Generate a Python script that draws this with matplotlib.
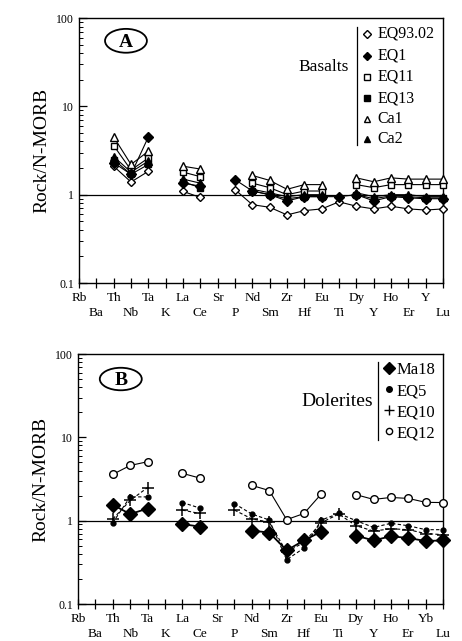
import numpy as np
import matplotlib
matplotlib.use("Agg")
import matplotlib.pyplot as plt
from matplotlib.patches import Ellipse

plt.rcParams['font.family'] = ['Liberation Serif', 'DejaVu Serif']

elements = ['Rb', 'Ba', 'Th', 'Nb', 'Ta', 'K', 'La', 'Ce', 'Sr', 'P', 'Nd', 'Sm',
            'Zr', 'Hf', 'Eu', 'Ti', 'Dy', 'Y', 'Ho', 'Er', 'Y', 'Lu']
elements_b = ['Rb', 'Ba', 'Th', 'Nb', 'Ta', 'K', 'La', 'Ce', 'Sr', 'P', 'Nd', 'Sm',
              'Zr', 'Hf', 'Eu', 'Ti', 'Dy', 'Y', 'Ho', 'Er', 'Yb', 'Lu']
n = np.nan

# panel A - basalts (Rb ... Lu)
eq9302 = [n, n, 2.1, 1.39, 1.84, n, 1.09, 0.93, n, 1.14, 0.77, 0.72, 0.59, 0.66, 0.69, 0.83, 0.74, 0.69, 0.74, 0.69, 0.67, 0.69]
eq1    = [n, n, 2.3, 1.7, 4.5, n, 1.35, 1.25, n, 1.48, 1.1, 1.0, 0.85, 0.95, 0.95, 0.95, 1.0, 0.85, 0.95, 0.92, 0.9, 0.9]
eq11   = [n, n, 3.6, 1.9, 2.6, n, 1.8, 1.6, n, n, 1.35, 1.2, 1.0, 1.1, 1.1, n, 1.3, 1.2, 1.3, 1.3, 1.3, 1.3]
eq13   = [n, n, 2.5, 1.7, 2.2, n, 1.4, 1.2, n, n, 1.1, 1.0, 0.9, 0.95, 0.95, n, 1.0, 0.9, 0.97, 0.95, 0.92, 0.92]
ca1    = [n, n, 4.5, 2.2, 3.1, n, 2.1, 1.95, n, n, 1.65, 1.45, 1.15, 1.3, 1.3, n, 1.55, 1.4, 1.55, 1.5, 1.5, 1.5]
ca2    = [n, n, 2.7, 1.8, 2.4, n, 1.5, 1.35, n, n, 1.15, 1.05, 0.95, 1.0, 1.0, n, 1.05, 0.95, 1.0, 1.0, 0.95, 0.95]

# panel B - dolerites
ma18 = [n, n, 1.55, 1.2, 1.4, n, 0.91, 0.85, n, n, 0.76, 0.72, 0.44, 0.58, 0.74, n, 0.66, 0.58, 0.65, 0.62, 0.57, 0.58]
eq5  = [n, n, 0.95, 1.93, 1.93, n, 1.65, 1.42, n, 1.6, 1.2, 1.02, 0.34, 0.47, 1.02, 1.22, 1.0, 0.83, 0.93, 0.87, 0.78, 0.78]
eq10 = [n, n, 1.05, 1.75, 2.5, n, 1.34, 1.22, n, 1.34, 1.05, 0.96, 0.42, 0.55, 0.95, 1.2, 0.87, 0.75, 0.8, 0.78, 0.7, 0.68]
eq12 = [n, n, 3.6, 4.6, 5.1, n, 3.7, 3.25, n, n, 2.65, 2.3, 1.03, 1.22, 2.1, n, 2.05, 1.8, 1.9, 1.85, 1.66, 1.65]

x = np.arange(len(elements))

fig = plt.figure(figsize=(4.62, 6.41), dpi=100)
axA = fig.add_axes([0.171, 0.5585, 0.788, 0.4134])
axB = fig.add_axes([0.169, 0.0577, 0.790, 0.3900])


def style_axis(ax, labels):
    ax.set_yscale('log')
    ax.set_ylim(0.1, 100)
    ax.set_xlim(0, len(labels) - 1)
    ax.axhline(1, color='black', lw=0.9, zorder=1)
    ax.set_xticks(x)
    ax.set_xticklabels([lab if i % 2 == 0 else '\n' + lab for i, lab in enumerate(labels)],
                       fontsize=9.5, linespacing=1.3)
    ax.tick_params(axis='x', direction='inout', length=7, width=0.9, pad=3)
    ax.tick_params(axis='y', which='major', direction='in', length=6, width=0.9, labelsize=8.5)
    ax.tick_params(axis='y', which='minor', direction='in', length=3, width=0.7)
    ax.set_yticks([0.1, 1, 10, 100])
    ax.set_yticklabels(['0.1', '1', '10', '100'])
    ax.set_ylabel('Rock/N-MORB', fontsize=14, labelpad=4)
    for s in ax.spines.values():
        s.set_linewidth(1.0)


def badge(ax, letter, xc, yc):
    e = Ellipse((xc, yc), 0.115, 0.09, transform=ax.transAxes, fill=False, lw=1.3, color='black')
    ax.add_patch(e)
    ax.text(xc, yc - 0.005, letter, transform=ax.transAxes, ha='center', va='center',
            fontsize=14, fontweight='bold')


# ---- panel A
style_axis(axA, elements)
kw = dict(color='black', lw=0.8, clip_on=False, zorder=3)
axA.plot(x, eq9302, marker='D', ms=4.5, mfc='white', mec='black', **kw)
axA.plot(x, eq1, marker='D', ms=5, mfc='black', mec='black', **kw)
axA.plot(x, eq11, marker='s', ms=5, mfc='white', mec='black', **kw)
axA.plot(x, eq13, marker='s', ms=5, mfc='black', mec='black', **kw)
axA.plot(x, ca1, marker='^', ms=6, mfc='white', mec='black', **kw)
axA.plot(x, ca2, marker='^', ms=6, mfc='black', mec='black', **kw)
badge(axA, 'A', 0.129, 0.914)

leg_a = [('EQ93.02', 'D', 'white', 4), ('EQ1', 'D', 'black', 4), ('EQ11', 's', 'white', 4),
         ('EQ13', 's', 'black', 4), ('Ca1', '^', 'white', 5), ('Ca2', '^', 'black', 5)]
ys = [0.94, 0.857, 0.778, 0.698, 0.619, 0.543]
axA.plot([0.763, 0.763], [0.965, 0.52], transform=axA.transAxes, color='black', lw=0.9)
for (lab, m, fc, ms), yy in zip(leg_a, ys):
    axA.plot([0.792], [yy], transform=axA.transAxes, marker=m, ms=ms, mfc=fc, mec='black',
             ls='none', color='black')
    axA.text(0.82, yy, lab, transform=axA.transAxes, va='center', fontsize=11.5)
axA.text(0.742, 0.815, 'Basalts', transform=axA.transAxes, ha='right', va='center', fontsize=12.5)

# ---- panel B
style_axis(axB, elements_b)
axB.plot(x, eq12, marker='o', ms=5.5, mfc='white', mec='black', **kw)
axB.plot(x, eq5, marker='o', ms=3.5, mfc='black', mec='black', ls='--', dashes=(3, 2), **kw)
axB.plot(x, eq10, marker='+', ms=8, mew=1.1, ls='--', dashes=(3, 2), **kw)
axB.plot(x, ma18, marker='D', ms=7, mfc='black', mec='black', lw=1.3,
         color='black', clip_on=False, zorder=3)
badge(axB, 'B', 0.117, 0.9)

leg_b = [('Ma18', 'D', 'black', 6), ('EQ5', 'o', 'black', 4),
         ('EQ10', '+', 'black', 7), ('EQ12', 'o', 'white', 4.5)]
ysb = [0.936, 0.851, 0.767, 0.683]
axB.plot([0.822, 0.822], [0.97, 0.655], transform=axB.transAxes, color='black', lw=0.9)
for (lab, m, fc, ms), yy in zip(leg_b, ysb):
    axB.plot([0.853], [yy + 0.01], transform=axB.transAxes, marker=m, ms=ms, mfc=fc, mec='black',
             mew=1.0, ls='none', color='black')
    axB.text(0.872, yy, lab, transform=axB.transAxes, va='center', fontsize=12)
axB.text(0.808, 0.81, 'Dolerites', transform=axB.transAxes, ha='right', va='center', fontsize=14)

fig.savefig('out.png', dpi=100)
